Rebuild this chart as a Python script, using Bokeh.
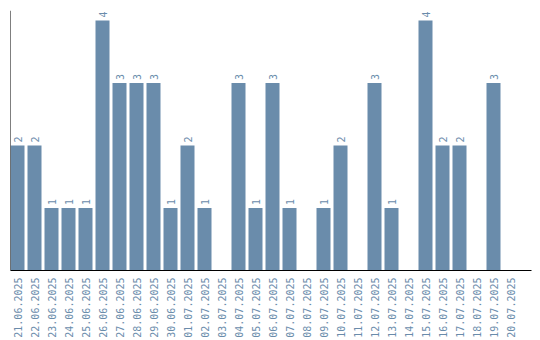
import math
from bokeh.plotting import figure
from bokeh.models import ColumnDataSource, Range1d, FixedTicker, Span
from bokeh.core.properties import value
from bokeh.embed import file_html
from bokeh.resources import INLINE

dates = ["21.06.2025", "22.06.2025", "23.06.2025", "24.06.2025", "25.06.2025",
         "26.06.2025", "27.06.2025", "28.06.2025", "29.06.2025", "30.06.2025",
         "01.07.2025", "02.07.2025", "03.07.2025", "04.07.2025", "05.07.2025",
         "06.07.2025", "07.07.2025", "08.07.2025", "09.07.2025", "10.07.2025",
         "11.07.2025", "12.07.2025", "13.07.2025", "14.07.2025", "15.07.2025",
         "16.07.2025", "17.07.2025", "18.07.2025", "19.07.2025", "20.07.2025"]
counts = [2, 2, 1, 1, 1, 4, 3, 3, 3, 1,
          2, 1, 0, 3, 1, 3, 1, 0, 1, 2,
          0, 3, 1, 0, 4, 2, 2, 0, 3, 0]

COLOR = "#6a8cab"
FONT = "DejaVu Sans Mono"

idx = list(range(len(dates)))
src = ColumnDataSource(dict(x=idx, top=counts))
lab_x = [i for i, c in zip(idx, counts) if c > 0]
lab_y = [c for c in counts if c > 0]
lab_t = [str(c) for c in counts if c > 0]
lsrc = ColumnDataSource(dict(x=lab_x, y=lab_y, t=lab_t))

slot = 17.0
x_start = -7.0 / slot
x_end = x_start + 521.0 / slot

p = figure(width=540, height=340, output_backend="svg", toolbar_location=None,
           x_range=Range1d(x_start, x_end), y_range=Range1d(0, 4.16),
           min_border_left=10, min_border_right=9, min_border_top=10,
           min_border_bottom=70)
p.outline_line_color = None
p.grid.visible = False
p.yaxis.visible = False

p.vbar(x="x", top="top", width=14.0 / slot, source=src, color=COLOR, line_color=None)
p.text(x="x", y="y", text="t", source=lsrc, angle=math.pi / 2,
       text_align="left", text_baseline="middle", y_offset=-3,
       text_font=value(FONT), text_font_size="10px", text_color=COLOR)

p.add_layout(Span(location=x_start, dimension="height", line_color="black", line_width=1))

ax = p.xaxis[0]
ax.ticker = FixedTicker(ticks=idx)
ax.major_label_overrides = {i: d for i, d in zip(idx, dates)}
ax.major_label_orientation = math.pi / 2
ax.major_label_text_font = FONT
ax.major_label_text_font_size = "10px"
ax.major_label_text_color = COLOR
ax.major_tick_line_color = None
ax.minor_tick_line_color = None
ax.major_tick_out = 0
ax.major_tick_in = 0
ax.major_label_standoff = 7
ax.axis_line_color = "black"

open("out.html", "w").write(file_html(p, INLINE))
